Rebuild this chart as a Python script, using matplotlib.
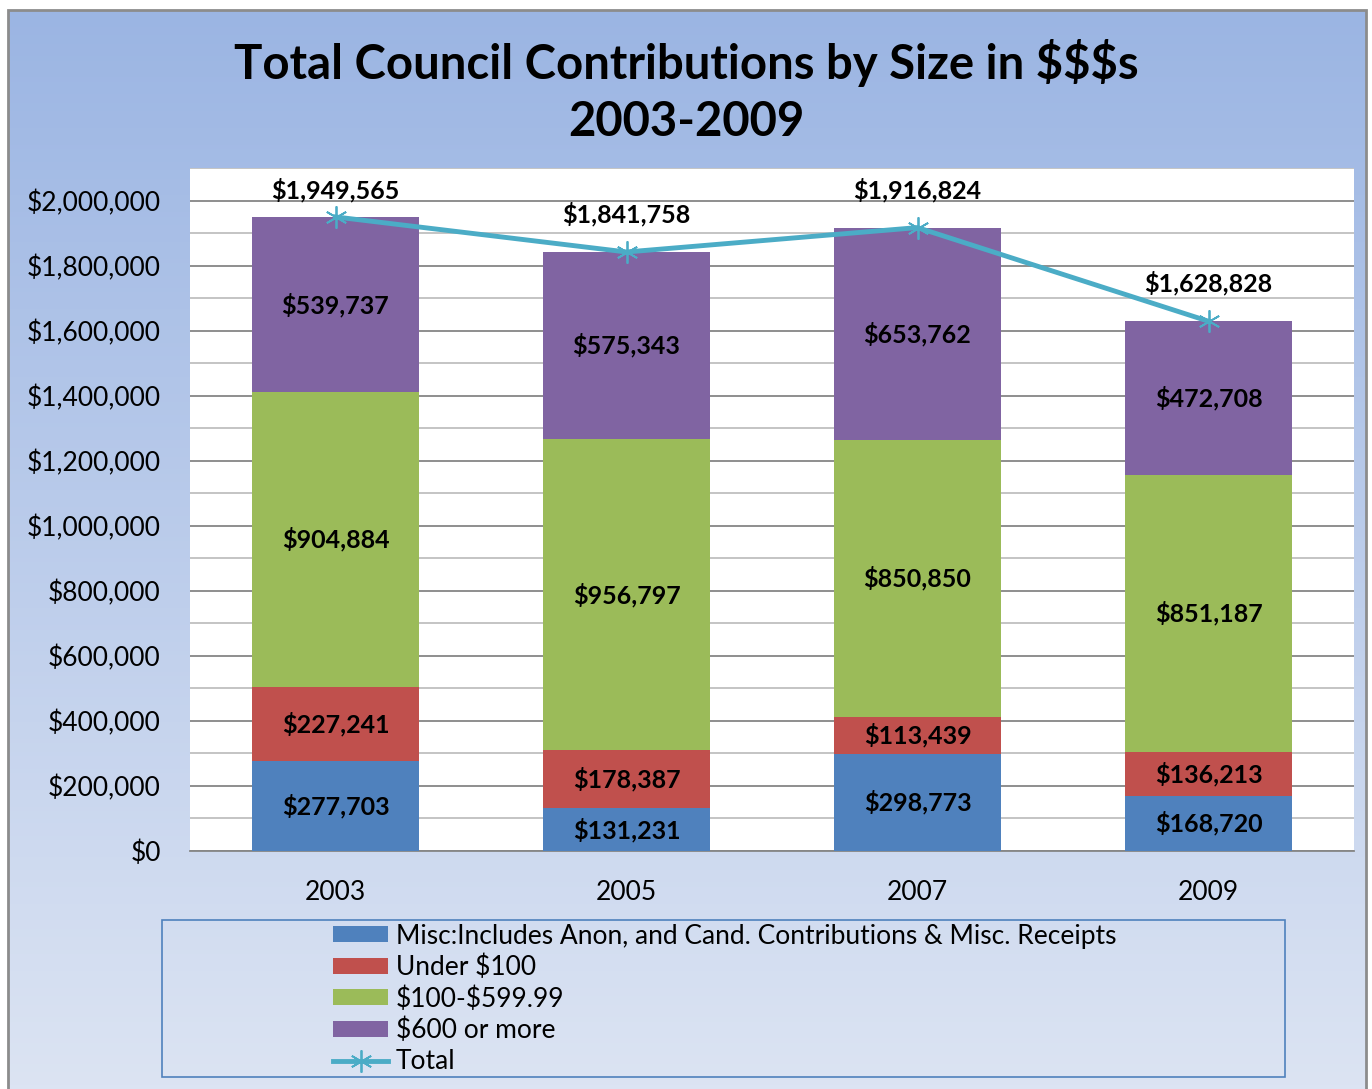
import numpy as np
import matplotlib
matplotlib.use("Agg")
import matplotlib.pyplot as plt
from matplotlib.patches import Rectangle, Patch
from matplotlib.lines import Line2D
from matplotlib.ticker import MultipleLocator, FuncFormatter

years = ["2003", "2005", "2007", "2009"]
misc = [277703, 131231, 298773, 168720]
under100 = [227241, 178387, 113439, 136213]
mid = [904884, 956797, 850850, 851187]
over600 = [539737, 575343, 653762, 472708]
totals = [1949565, 1841758, 1916824, 1628828]

series = [
    ("Misc:Includes Anon, and Cand. Contributions & Misc. Receipts", misc, "#4F81BD"),
    ("Under \\$100", under100, "#C0504D"),
    ("\\$100-\\$599.99", mid, "#9BBB59"),
    ("\\$600 or more", over600, "#8064A2"),
]
line_color = "#4BACC6"

plt.rcParams['font.family'] = ['Lato', 'DejaVu Sans']

W, H = 1372, 1089
fig = plt.figure(figsize=(W / 100, H / 100), dpi=100)
fig.patch.set_facecolor("white")

# gradient background of the chart area
bg = fig.add_axes([8 / W, 0, (1366 - 8) / W, (H - 10) / H], zorder=-10)
top = np.array([0x9B, 0xB5, 0xE3]) / 255
bot = np.array([0xDC, 0xE4, 0xF3]) / 255
t = np.linspace(0, 1, 256)[:, None]
grad = top * (1 - t) + bot * t
bg.imshow(grad[:, None, :].repeat(2, axis=1), aspect="auto", extent=[0, 1, 0, 1])
bg.set_axis_off()
fig.patches.append(Rectangle((8 / W, -0.01), (1366 - 8) / W, (H - 10) / H + 0.01,
                             transform=fig.transFigure, fill=False,
                             edgecolor="#8C8C8C", lw=2, zorder=-5))

ax = fig.add_axes([190 / W, 238 / H, (1354 - 190) / W, (851 - 168) / H])
ax.set_facecolor("white")

x = np.arange(len(years))
width = 0.575
bottom = np.zeros(len(years))
for name, vals, col in series:
    ax.bar(x, vals, width, bottom=bottom, color=col, zorder=3, label=name)
    for xi, b, v in zip(x, bottom, vals):
        ax.text(xi, b + v / 2, "\\${:,}".format(v), ha="center", va="center",
                fontsize=18, fontweight="bold", color="black", zorder=5)
    bottom += np.array(vals)

ax.plot(x, totals, color=line_color, lw=3.5, marker=(6, 2, 0), markersize=16,
        markeredgewidth=1.3, zorder=4)
ymax = 2100000
for xi, v in zip(x, totals):
    # label above the point, kept inside the plot area
    ax.text(xi, min(v + 117000, ymax - 68000), "\\${:,}".format(v), ha="center",
            va="center", fontsize=18, fontweight="bold", color="black", zorder=5)

ax.set_xlim(-0.5, 3.5)
ax.set_ylim(0, ymax)
ax.yaxis.set_major_locator(MultipleLocator(200000))
ax.yaxis.set_minor_locator(MultipleLocator(100000))
ax.yaxis.set_major_formatter(FuncFormatter(lambda v, p: "\\${:,.0f}".format(v)))
ax.grid(axis="y", which="major", color="#868686", lw=1.3, zorder=0)
ax.grid(axis="y", which="minor", color="#BFBFBF", lw=1.3, zorder=0)
ax.set_xticks(x)
ax.set_xticklabels(years)
ax.tick_params(axis="y", which="both", length=0, labelsize=19, pad=21)
ax.tick_params(axis="x", length=0, labelsize=19, pad=21)
for s in ["top", "right", "left"]:
    ax.spines[s].set_visible(False)
ax.spines["bottom"].set_color("#868686")
ax.spines["bottom"].set_linewidth(1.3)

fig.text(0.5, (H - 63) / H, "Total Council Contributions by Size in \\$\\$\\$s",
         ha="center", va="center", fontsize=34, fontweight="bold")
fig.text(0.5, (H - 122) / H, "2003-2009", ha="center", va="center",
         fontsize=34, fontweight="bold")

# legend frame
fig.patches.append(Rectangle((162 / W, (H - 1077) / H), (1285 - 162) / W, (1077 - 920) / H,
                             transform=fig.transFigure, fill=False,
                             edgecolor="#4F81BD", lw=1.2))
handles = [Patch(facecolor=c, label=n) for n, _, c in series]
handles.append(Line2D([], [], color=line_color, lw=3.5, marker=(6, 2, 0),
                      markersize=16, markeredgewidth=1.3, label="Total"))
fig.legend(handles=handles, loc="center left", bbox_to_anchor=(333 / W, (H - 999) / H),
           frameon=False, fontsize=19, handlelength=2.1, handleheight=0.55,
           handletextpad=0.27, labelspacing=0.23, borderpad=0, borderaxespad=0)

fig.savefig("out.png", dpi=100)
